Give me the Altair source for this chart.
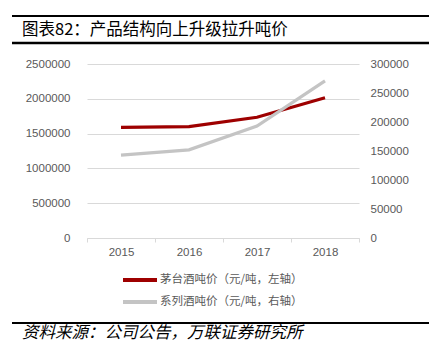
import altair as alt
import pandas as pd

years = ["2015", "2016", "2017", "2018"]
maotai = [1590000, 1600000, 1735000, 2015000]
series_wine = [143000, 152000, 193000, 271000]
name_m = "茅台酒吨价（元/吨，左轴）"
name_s = "系列酒吨价（元/吨，右轴）"
left_ticks = [0, 500000, 1000000, 1500000, 2000000, 2500000]
right_ticks = [0, 50000, 100000, 150000, 200000, 250000, 300000]
title_text = "图表82：产品结构向上升级拉升吨价"
source_text = "资料来源：公司公告，万联证券研究所"

RED = "#9E0000"
GREY = "#C4C4C4"
LABEL = "#595959"
NUMFONT = "Liberation Sans"
CJK = "Noto Sans CJK SC"

df = pd.DataFrame({
    "year": years * 2,
    "value": maotai + series_wine,
    "name": [name_m] * 4 + [name_s] * 4,
})

x = alt.X("year:O",
          scale=alt.Scale(type="band", paddingInner=0, paddingOuter=0),
          axis=alt.Axis(title=None, labelAngle=0, tickBand="extent", ticks=True,
                        tickSize=4, tickColor="#D9D9D9", domainColor="#D9D9D9",
                        grid=False, labelPadding=4, labelFont=NUMFONT,
                        labelFontSize=11.5, labelColor=LABEL))

color = alt.Color("name:N",
                  scale=alt.Scale(domain=[name_m, name_s], range=[RED, GREY]),
                  legend=None)

left = alt.Chart(df).transform_filter(alt.datum.name == name_m).mark_line(
    strokeWidth=3.2).encode(
    x=x,
    y=alt.Y("value:Q", scale=alt.Scale(domain=[0, 2500000]),
            axis=alt.Axis(title=None, values=left_ticks, format="d", domain=False,
                          ticks=False, grid=True, gridColor="#D9D9D9", labelPadding=17,
                          labelFont=NUMFONT, labelFontSize=11.5, labelColor=LABEL)),
    color=color,
)

right = alt.Chart(df).transform_filter(alt.datum.name == name_s).mark_line(
    strokeWidth=3.2).encode(
    x=x,
    y=alt.Y("value:Q", scale=alt.Scale(domain=[0, 300000]),
            axis=alt.Axis(title=None, orient="right", values=right_ticks, format="d",
                          domain=False, ticks=False, grid=False, labelPadding=11,
                          labelFont=NUMFONT, labelFontSize=11.5, labelColor=LABEL)),
    color=color,
)

one = pd.DataFrame({"k": [0]})

def hrule(ypix, w, x1=-75, x2=342, col="black"):
    return alt.Chart(one).mark_rule(color=col, strokeWidth=w).encode(
        x=alt.value(x1), x2=alt.value(x2), y=alt.value(ypix))

def label(text, xpix, ypix, size, font=CJK, col="black", style="normal"):
    return alt.Chart(pd.DataFrame({"t": [text]})).mark_text(
        align="left", baseline="middle", font=font, fontSize=size, fontStyle=style,
        color=col).encode(text="t:N", x=alt.value(xpix), y=alt.value(ypix))

legend_layers = [
    hrule(216, 4, 36, 70, RED),
    label(name_m, 73, 216, 11.5, col=LABEL),
    hrule(238, 4, 36, 70, GREY),
    label(name_s, 73, 238, 11.5, col=LABEL),
]

chart = alt.layer(
    left, right,
    hrule(-48, 2), hrule(-21, 2.5), hrule(259, 2),
    label(title_text, -65, -34, 16.5),
    label(source_text, -65, 269, 16.5, style="italic"),
    *legend_layers,
).resolve_scale(y="independent").properties(
    width=272, height=174,
    background="white",
    autosize=alt.AutoSizeParams(type="none"),
    padding={"left": 87, "top": 64, "right": 70, "bottom": 117},
).configure_view(stroke=None)

chart.save("out.html", embed_options={"renderer": "svg", "actions": False})
